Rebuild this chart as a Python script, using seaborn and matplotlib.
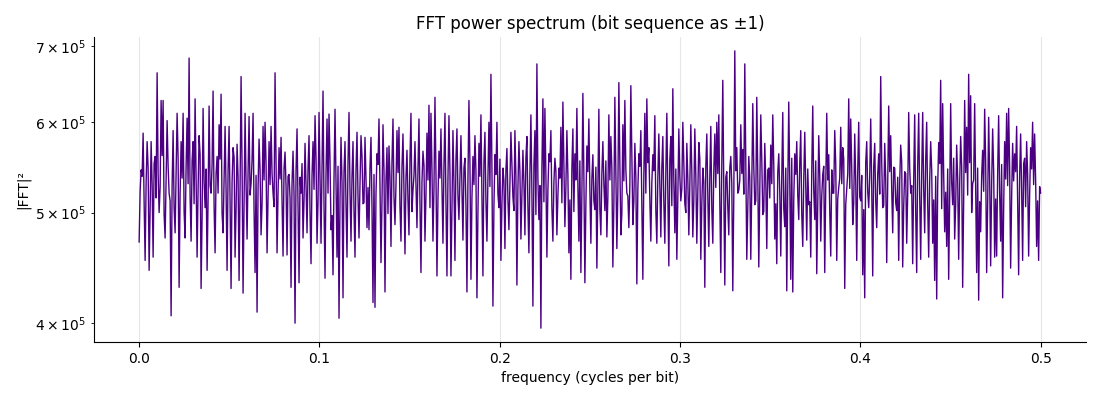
import numpy as np
import pandas as pd
import matplotlib
matplotlib.use("Agg")
import matplotlib.pyplot as plt
import seaborn as sns

# "power" arrays hold the visible spikes, "body" arrays hold the dense band between them.
power_seg_a = [471, 545, 587, 454, 577, 445, 577, 457, 560, 663, 500, 627, 627, 475, 602, 520,
               406, 590, 480, 611, 430, 577, 611, 475, 605, 683, 472, 577, 629, 457, 584, 429,
               617, 505, 445, 620, 520, 639, 461, 560, 597, 635, 480, 595, 445, 595, 429, 570,
               457, 574, 436, 658, 425, 611, 474, 607, 530, 611, 443, 409, 580, 478, 595, 600,
               461, 577, 595, 520, 663, 461, 570, 582, 458, 565, 459, 540]
power_seg_b = [430, 566, 400, 592, 434, 520, 475, 575, 480, 584, 451, 577, 608, 470, 612, 470,
               639, 438, 604, 610, 483, 441, 616, 457, 404, 582, 421, 577, 457, 612, 472, 577,
               457, 588, 475, 584, 509, 582, 485, 483, 582, 417, 413, 563, 604, 452, 597, 426,
               570, 572, 467, 604, 488, 590, 594, 472, 586, 460, 567, 478, 611, 523, 577, 485,
               604, 443, 566, 472, 587, 621, 611, 472, 631, 440, 566]
power_seg_c = [592, 470, 611, 440, 608, 440, 590, 454, 592, 493, 584, 473, 558, 426, 627, 437,
               560, 584, 421, 575, 609, 440, 588, 472, 600, 661, 414, 562, 600, 505, 454, 547,
               465, 569, 483, 588, 516, 590, 432, 577, 474, 567, 478, 583, 461, 609, 414, 590,
               675, 493, 396, 629, 617, 457, 563, 590, 472, 558, 478, 547, 594, 625, 486, 590,
               461, 437, 592, 563, 617, 472, 443, 636, 434, 572, 604]
power_seg_d = [470, 562, 503, 447, 616, 478, 577, 502, 476, 609, 583, 448, 631, 465, 650, 478,
               597, 627, 520, 485, 646, 488, 575, 433, 563, 590, 437, 611, 629, 570, 472, 562,
               608, 470, 586, 476, 583, 470, 611, 449, 583, 642, 480, 455, 592, 512, 600, 509,
               575, 478, 597, 476, 592, 470, 576, 455, 547, 430, 586, 467, 595, 470, 586, 600,
               609, 443, 653, 432, 543, 478, 560, 427, 693, 570, 523]
power_seg_e = [597, 568, 675, 455, 560, 455, 623, 508, 631, 448, 609, 498, 575, 465, 547, 573,
               609, 474, 451, 563, 458, 612, 486, 427, 625, 437, 426, 563, 577, 493, 590, 467,
               588, 473, 508, 457, 620, 493, 442, 584, 472, 540, 443, 611, 562, 458, 520, 590,
               454, 526, 594, 570, 429, 525, 629, 604, 488, 586, 454, 600, 512, 441, 421, 577,
               505, 604, 440, 575, 485, 563, 658, 505, 575, 452, 620]
power_seg_f = [584, 480, 547, 502, 454, 573, 448, 543, 470, 612, 520, 451, 609, 443, 611, 455,
               612, 480, 600, 457, 577, 470, 436, 420, 576, 653, 623, 481, 467, 437, 623, 508,
               474, 573, 455, 583, 430, 627, 594, 661, 633, 530, 623, 443, 419, 481, 567, 616,
               443, 606, 449, 592, 457, 458, 608, 472, 421, 577, 611, 617, 447, 575, 563, 595,
               441, 586, 454, 558, 577, 458, 570, 600, 586, 467, 454, 520]

body_seg_a = [522, 538, 510, 531, 547, 503, 529, 552, 515, 540, 526, 561, 498, 534, 549, 512,
              527, 505, 543, 558, 519, 536, 501, 548, 530, 517, 555, 509, 539, 524, 562, 496,
              533, 546, 514, 528, 551, 507, 541, 520, 557, 499, 535, 523, 544, 511, 532, 559,
              504, 537, 526, 548, 513, 530, 542, 518, 556, 502, 539, 525, 545, 509, 534, 552,
              516, 529, 541, 506, 550, 521, 535, 512, 547, 527, 538, 515]
body_seg_b = [531, 518, 544, 505, 537, 552, 513, 528, 546, 500, 539, 524, 558, 511, 533, 547,
              507, 541, 520, 555, 497, 536, 529, 549, 514, 532, 543, 508, 553, 522, 538, 502,
              545, 517, 530, 560, 510, 535, 526, 548, 504, 540, 519, 551, 528, 512, 544, 533,
              499, 537, 554, 516, 529, 542, 506, 548, 523, 536, 513, 557, 501, 539, 527, 545,
              510, 532, 550, 518, 534, 505, 546, 525, 541, 514, 536]
body_seg_c = [527, 549, 511, 535, 542, 503, 531, 556, 518, 539, 524, 547, 508, 534, 552, 515,
              529, 544, 500, 538, 521, 553, 512, 536, 527, 548, 506, 540, 519, 557, 509, 533,
              545, 514, 530, 551, 502, 537, 525, 543, 516, 532, 558, 507, 541, 520, 549, 498,
              535, 528, 546, 511, 539, 523, 554, 505, 531, 544, 517, 536, 510, 550, 526, 540,
              513, 547, 501, 534, 529, 555, 519, 538, 508, 543, 524]
body_seg_d = [536, 512, 548, 527, 503, 541, 530, 555, 516, 534, 546, 508, 539, 522, 551, 499,
              533, 545, 517, 529, 558, 511, 537, 524, 549, 505, 540, 520, 553, 514, 531, 544,
              502, 536, 527, 547, 510, 542, 519, 556, 507, 533, 546, 515, 538, 525, 550, 500,
              535, 528, 543, 513, 539, 521, 557, 509, 532, 548, 518, 536, 504, 545, 526, 541,
              512, 552, 523, 537, 506, 547, 530, 516, 544, 520, 534]
body_seg_e = [541, 519, 553, 507, 536, 528, 548, 512, 539, 524, 556, 501, 533, 545, 515, 530,
              550, 509, 542, 521, 537, 504, 547, 526, 532, 558, 513, 540, 518, 552, 498, 535,
              529, 546, 511, 543, 523, 555, 506, 538, 517, 549, 527, 534, 502, 545, 520, 551,
              514, 536, 530, 557, 508, 541, 525, 547, 510, 533, 544, 516, 539, 503, 553, 522,
              537, 528, 548, 512, 540, 519, 554, 507, 535, 526, 543]
body_seg_f = [525, 548, 510, 537, 532, 554, 506, 541, 519, 547, 528, 535, 501, 550, 516, 539,
              524, 556, 509, 533, 545, 513, 538, 527, 552, 504, 540, 521, 546, 515, 531, 558,
              507, 536, 529, 549, 512, 542, 518, 553, 500, 534, 526, 547, 511, 539, 522, 555,
              508, 537, 530, 544, 514, 541, 520, 551, 503, 535, 528, 548, 516, 533, 543, 510,
              538, 524, 552, 506, 540, 518, 546, 529, 534, 512, 527]

peaks = (power_seg_a + power_seg_b + power_seg_c +
         power_seg_d + power_seg_e + power_seg_f)
body = (body_seg_a + body_seg_b + body_seg_c +
        body_seg_d + body_seg_e + body_seg_f)

# interleave: spike, band value, spike, band value, ..., last spike
n_pairs = min(len(peaks) - 1, len(body))
values = []
for i in range(n_pairs):
    values.append(peaks[i])
    values.append(body[i])
values.append(peaks[n_pairs])

power = np.array(values, dtype=float) * 1000.0
freq = np.linspace(0.0, 0.5, len(power))

title = "FFT power spectrum (bit sequence as \u00b11)"
xlabel = "frequency (cycles per bit)"
ylabel = "|FFT|\u00b2"

df = pd.DataFrame({"freq": freq, "power": power})

sns.set_style("ticks")
plt.rcParams["font.family"] = ["DejaVu Sans"]
for key in ["text.color", "axes.labelcolor", "xtick.color", "ytick.color", "axes.edgecolor"]:
    plt.rcParams[key] = "black"

fig = plt.figure(figsize=(11, 4), dpi=100)
ax = fig.add_axes([0.0855, 0.145, 0.9015, 0.7625])

sns.lineplot(data=df, x="freq", y="power", color="#4b0082", linewidth=1.0, ax=ax)
ax.set_yscale("log")
ax.set_xlim(-0.025, 0.525)

ax.xaxis.grid(True, color="0.9", linewidth=0.8)
ax.yaxis.grid(False)
ax.set_axisbelow(True)
sns.despine(ax=ax)

ax.set_title(title, fontsize=12)
ax.set_xlabel(xlabel, fontsize=10)
ax.set_ylabel(ylabel, fontsize=10)
ax.tick_params(labelsize=10)

fig.savefig("out.png", dpi=100)
